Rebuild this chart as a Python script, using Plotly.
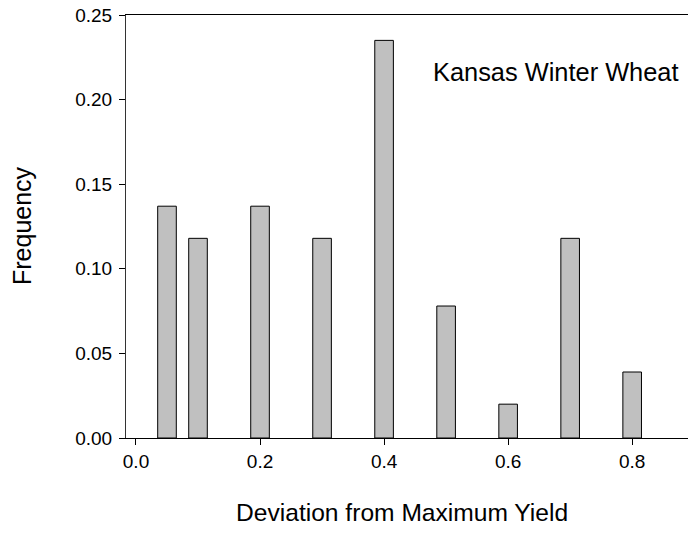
import plotly.graph_objects as go

# Data
deviation = [0.05, 0.1, 0.2, 0.3, 0.4, 0.5, 0.6, 0.7, 0.8]
frequency = [0.137, 0.118, 0.137, 0.118, 0.235, 0.078, 0.020, 0.118, 0.039]
x_ticks = [0.0, 0.2, 0.4, 0.6, 0.8]
x_tick_labels = ["0.0", "0.2", "0.4", "0.6", "0.8"]
y_ticks = [0.0, 0.05, 0.10, 0.15, 0.20, 0.25]
y_tick_labels = ["0.00", "0.05", "0.10", "0.15", "0.20", "0.25"]

FONT = "Liberation Sans, Arial, sans-serif"

fig = go.Figure()
fig.add_trace(go.Bar(
    x=deviation, y=frequency, width=0.03,
    marker=dict(color="#C0C0C0", line=dict(color="black", width=1)),
))

fig.update_layout(
    width=688, height=541,
    margin=dict(l=126, r=0, t=15, b=103),
    plot_bgcolor="white", paper_bgcolor="white",
    showlegend=False,
    font=dict(family=FONT, color="black"),
    xaxis=dict(
        range=[-0.0161, 0.890], tickvals=x_ticks, ticktext=x_tick_labels,
        showgrid=False, zeroline=False, showline=True, linecolor="black", linewidth=1,
        mirror=True, ticks="outside", ticklen=6, tickcolor="black",
        tickfont=dict(size=19, family=FONT),
    ),
    yaxis=dict(
        range=[0, 0.25], tickvals=y_ticks, ticktext=y_tick_labels,
        showgrid=False, zeroline=False, showline=True, linecolor="#333333", linewidth=1,
        ticks="outside", ticklen=6, tickcolor="black", ticklabelstandoff=3,
        tickfont=dict(size=19, family=FONT),
    ),
    annotations=[
        dict(text="Kansas Winter Wheat", xref="paper", yref="paper",
             x=(431 - 126) / 562, y=(438 - 72) / 423, xanchor="left", yanchor="middle",
             showarrow=False, font=dict(size=25.4, family=FONT)),
        dict(text="Frequency", xref="paper", yref="paper",
             x=(22 - 126) / 562, y=(438 - 226) / 423, xanchor="center", yanchor="middle",
             textangle=-90, showarrow=False, font=dict(size=25, family=FONT)),
        dict(text="Deviation from Maximum Yield", xref="paper", yref="paper",
             x=(402 - 126) / 562, y=-(512 - 438) / 423, xanchor="center", yanchor="middle",
             showarrow=False, font=dict(size=24.6, family=FONT)),
    ],
)

fig.write_html("out.html")
